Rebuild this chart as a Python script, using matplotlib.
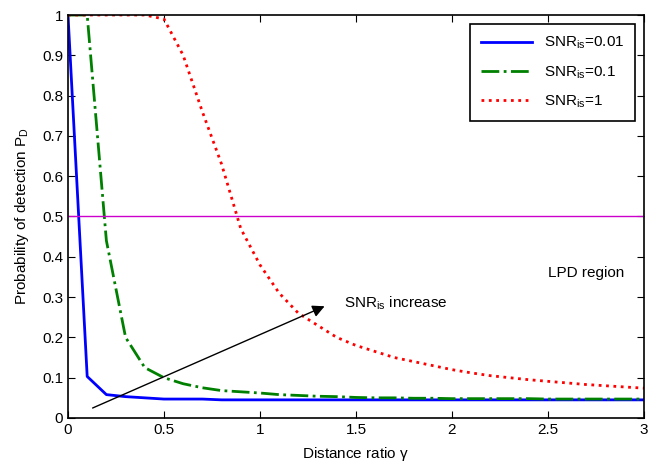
import numpy as np
import matplotlib
matplotlib.use("Agg")
import matplotlib.pyplot as plt

plt.rcParams['font.family'] = ['Liberation Sans', 'DejaVu Sans']
plt.rcParams['mathtext.fontset'] = 'custom'
plt.rcParams['mathtext.rm'] = 'Liberation Sans'
plt.rcParams['mathtext.it'] = 'Liberation Sans'

gamma = np.round(np.arange(0, 3.01, 0.1), 1)

pd_001 = [1.0, 0.103, 0.058, 0.053, 0.050, 0.047, 0.047, 0.047, 0.045, 0.045,
          0.045, 0.045, 0.045, 0.045, 0.045, 0.045, 0.045, 0.045, 0.045, 0.045,
          0.045, 0.045, 0.045, 0.045, 0.045, 0.045, 0.045, 0.045, 0.045, 0.045, 0.045]
pd_01 = [1.0, 1.0, 0.44, 0.20, 0.125, 0.10, 0.085, 0.075, 0.068, 0.065,
         0.062, 0.058, 0.056, 0.054, 0.053, 0.051, 0.050, 0.050, 0.049, 0.049,
         0.048, 0.048, 0.048, 0.048, 0.048, 0.047, 0.047, 0.047, 0.047, 0.047, 0.047]
pd_1 = [1.0, 1.0, 1.0, 1.0, 1.0, 0.99, 0.90, 0.76, 0.63, 0.47,
        0.38, 0.31, 0.26, 0.23, 0.20, 0.18, 0.165, 0.15, 0.14, 0.13,
        0.12, 0.112, 0.105, 0.10, 0.095, 0.091, 0.087, 0.083, 0.080, 0.077, 0.074]

fig = plt.figure(figsize=(6.5, 4.63), dpi=100)
ax = fig.add_axes([0.1046, 0.0972, 0.886, 0.8704])

ax.plot(gamma, pd_001, color='blue', lw=2, label=r'SNR$_{\rm is}$=0.01')
ax.plot(gamma, pd_01, color='green', lw=2, ls='-.', label=r'SNR$_{\rm is}$=0.1')
ax.plot(gamma, pd_1, color='red', lw=2, ls=':', label=r'SNR$_{\rm is}$=1')
ax.axhline(0.5, color='#cc00cc', lw=1)

ax.annotate('', xy=(1.35, 0.28), xytext=(0.115, 0.022),
            arrowprops=dict(arrowstyle='-|>', color='black', lw=1, mutation_scale=18))
ax.text(1.44, 0.285, r'SNR$_{\rm is}$ increase', fontsize=11, va='center')
ax.text(2.5, 0.36, 'LPD region', fontsize=11, va='center')

ax.set_xlim(0, 3)
ax.set_ylim(0, 1)
ax.set_xticks([0, 0.5, 1, 1.5, 2, 2.5, 3])
ax.set_xticklabels(['0', '0.5', '1', '1.5', '2', '2.5', '3'])
ax.set_yticks(np.round(np.arange(0, 1.01, 0.1), 1))
ax.set_yticklabels(['0', '0.1', '0.2', '0.3', '0.4', '0.5', '0.6', '0.7', '0.8', '0.9', '1'])
ax.tick_params(direction='in', top=True, right=True, labelsize=11, length=5)
for sp in ax.spines.values():
    sp.set_linewidth(1.2)

ax.set_xlabel(r'Distance ratio $\gamma$', fontsize=11, labelpad=6)
ax.set_ylabel(r'Probability of detection P$_{\rm D}$', fontsize=11, labelpad=8)

leg = ax.legend(loc='upper right', fontsize=11, fancybox=False, framealpha=1,
                edgecolor='black', borderaxespad=0.6, handlelength=3.3,
                labelspacing=0.85, borderpad=0.7)
leg.get_frame().set_linewidth(1.2)

fig.savefig('out.png', dpi=100)
